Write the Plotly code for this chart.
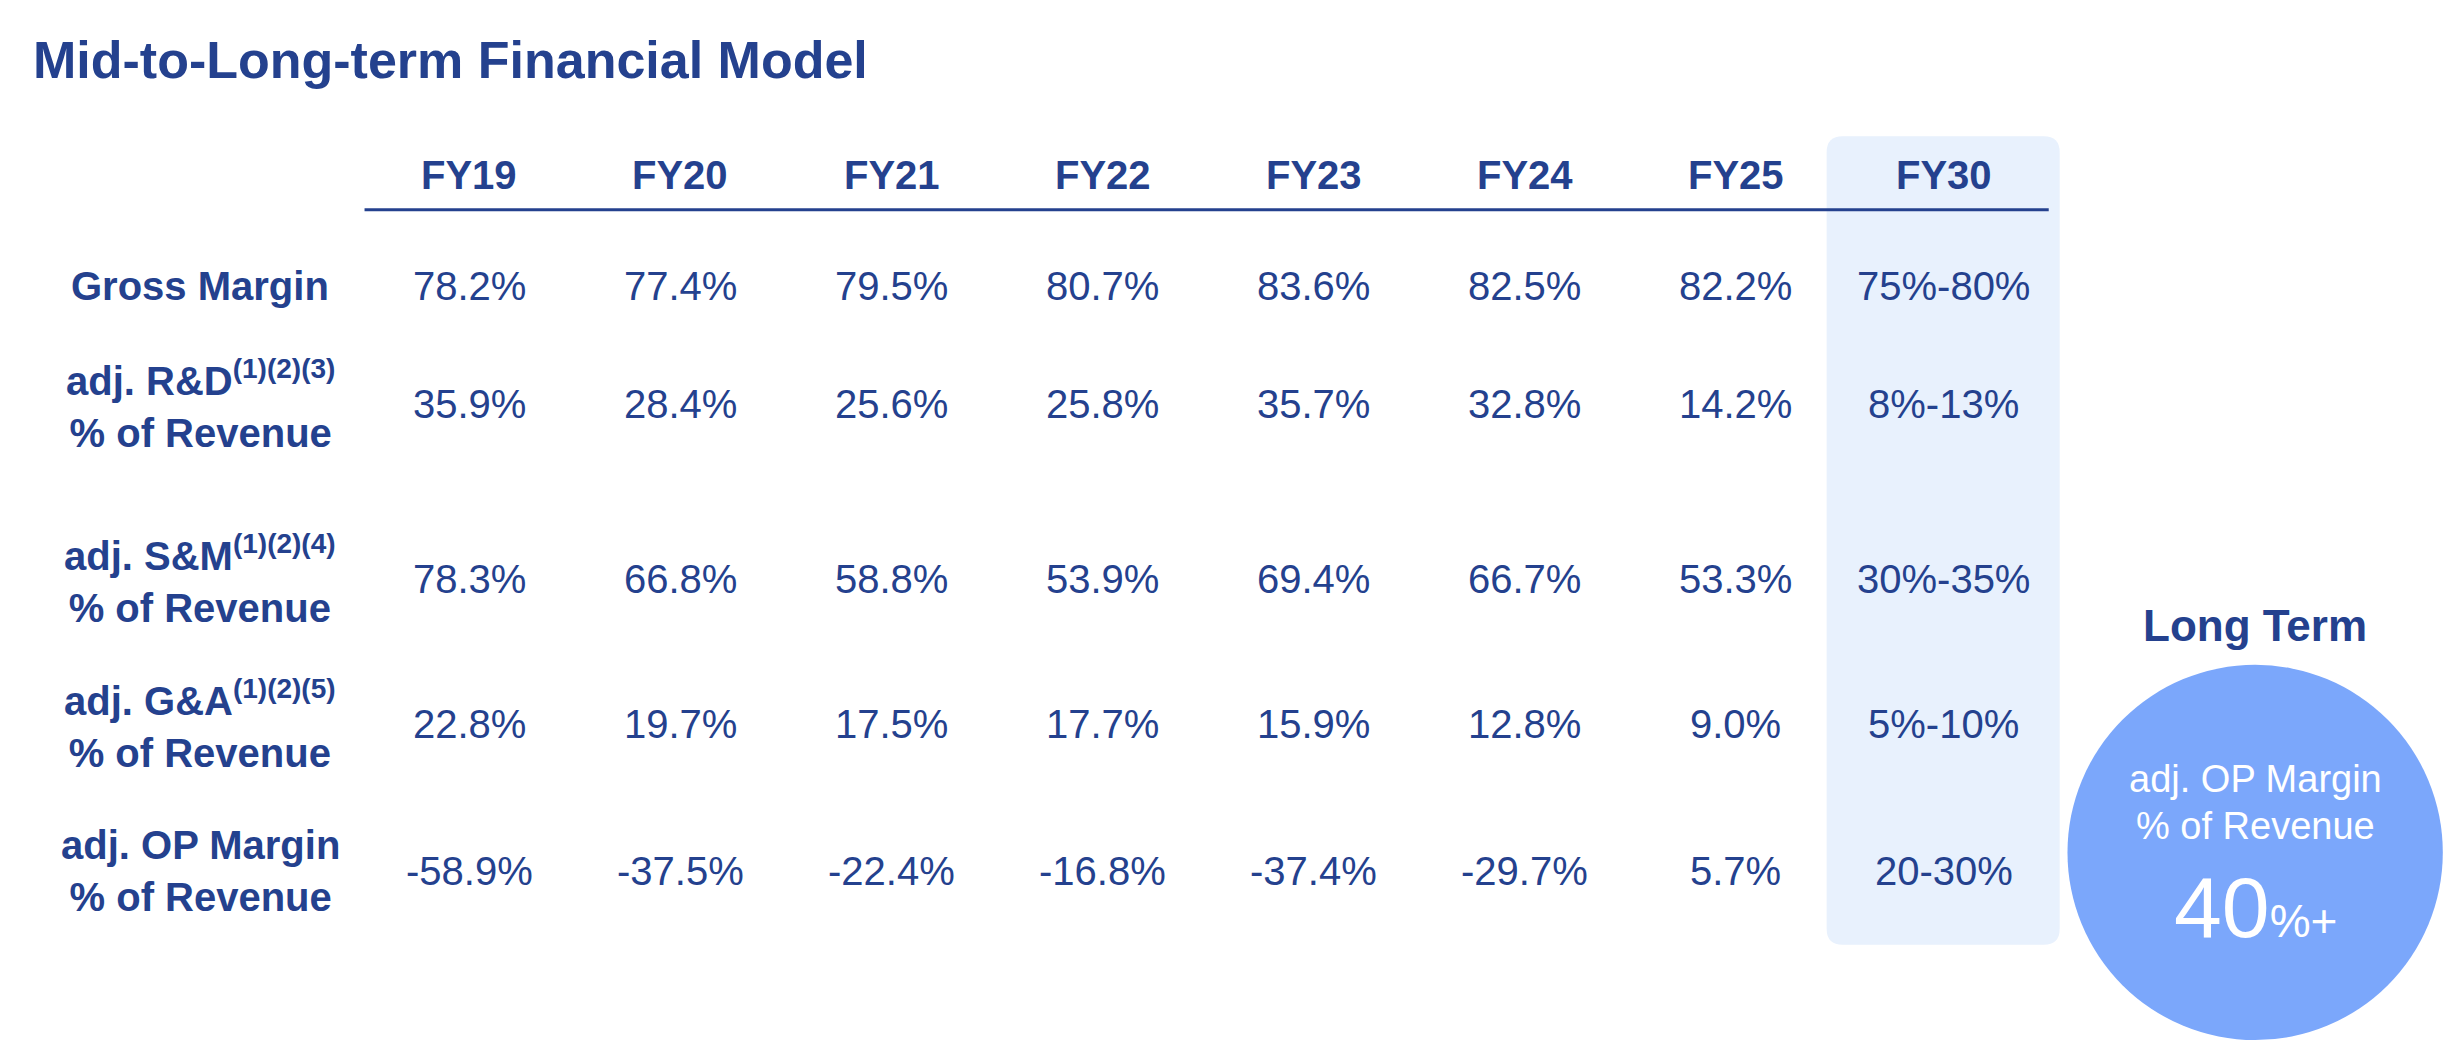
import plotly.graph_objects as go

years = ["FY19", "FY20", "FY21", "FY22", "FY23", "FY24", "FY25", "FY30"]
row_labels = [
    "Gross Margin",
    "adj. R&D<sup>(1)(2)(3)</sup><br>% of Revenue",
    "adj. S&M<sup>(1)(2)(4)</sup><br>% of Revenue",
    "adj. G&A<sup>(1)(2)(5)</sup><br>% of Revenue",
    "adj. OP Margin<br>% of Revenue",
]
gross_margin = ["78.2%", "77.4%", "79.5%", "80.7%", "83.6%", "82.5%", "82.2%", "75%-80%"]
rnd = ["35.9%", "28.4%", "25.6%", "25.8%", "35.7%", "32.8%", "14.2%", "8%-13%"]
snm = ["78.3%", "66.8%", "58.8%", "53.9%", "69.4%", "66.7%", "53.3%", "30%-35%"]
gna = ["22.8%", "19.7%", "17.5%", "17.7%", "15.9%", "12.8%", "9.0%", "5%-10%"]
op_margin = ["-58.9%", "-37.5%", "-22.4%", "-16.8%", "-37.4%", "-29.7%", "5.7%", "20-30%"]
rows = [gross_margin, rnd, snm, gna, op_margin]

W, H = 2452, 1042
K = W / 1568
def SX(v): return (v - 5) * K
def SY(v): return (v - 5) * K

NAVY = "#24418E"
FONT = "Liberation Sans, Arial, sans-serif"

col_x = [300, 435, 570, 705, 840, 975, 1110, 1243]
row_y = [183, 258, 370, 463, 557]

fig = go.Figure()
ann = []
shapes = []

x0, x1, y0, y1, r = SX(1168), SX(1317), SY(87), SY(604), 16
path = (f"M {x0+r},{y0} L {x1-r},{y0} Q {x1},{y0} {x1},{y0+r} L {x1},{y1-r} Q {x1},{y1} {x1-r},{y1} "
        f"L {x0+r},{y1} Q {x0},{y1} {x0},{y1-r} L {x0},{y0+r} Q {x0},{y0} {x0+r},{y0} Z")
shapes.append(dict(type="path", path=path, fillcolor="#E8F1FD", line=dict(width=0), layer="below"))
shapes.append(dict(type="line", x0=SX(233), x1=SX(1310), y0=SY(134), y1=SY(134), line=dict(color=NAVY, width=3)))

ann.append(dict(x=SX(20), y=SY(38), text="<b>Mid-to-Long-term Financial Model</b>", xanchor="left",
                font=dict(size=52, color=NAVY, family=FONT)))

for x, yr in zip(col_x, years):
    ann.append(dict(x=SX(x), y=SY(112), text=f"<b>{yr}</b>", font=dict(size=40, color=NAVY, family=FONT)))

for ry, lab, vals in zip(row_y, row_labels, rows):
    ann.append(dict(x=SX(128), y=SY(ry), text=f"<b>{lab}</b>", font=dict(size=40, color=NAVY, family=FONT)))
    for x, v in zip(col_x, vals):
        ann.append(dict(x=SX(x), y=SY(ry), text=v, font=dict(size=40, color=NAVY, family=FONT)))

cx, cy, cr = SX(1442), SY(545), 120 * K
shapes.append(dict(type="circle", x0=cx-cr, x1=cx+cr, y0=cy-cr, y1=cy+cr, fillcolor="#7BA7FB", line=dict(width=0)))
ann.append(dict(x=SX(1442), y=SY(400), text="<b>Long Term</b>", font=dict(size=44, color=NAVY, family=FONT)))
ann.append(dict(x=SX(1442), y=SY(498), text="adj. OP Margin", font=dict(size=38, color="white", family=FONT)))
ann.append(dict(x=SX(1442), y=SY(528), text="% of Revenue", font=dict(size=38, color="white", family=FONT)))
ann.append(dict(x=SX(1442), y=SY(580), text="<span style='font-size:86px'>40</span>%+",
                font=dict(size=46, color="white", family=FONT)))

for a in ann:
    a.update(xref="x", yref="y", showarrow=False)
    a.setdefault("xanchor", "center")
    a.setdefault("yanchor", "middle")

fig.update_layout(
    width=W, height=H, margin=dict(l=0, r=0, t=0, b=0),
    paper_bgcolor="white", plot_bgcolor="white",
    xaxis=dict(range=[0, W], visible=False, fixedrange=True),
    yaxis=dict(range=[H, 0], visible=False, fixedrange=True),
    annotations=ann, shapes=shapes, showlegend=False,
)
fig.write_html("out.html")
